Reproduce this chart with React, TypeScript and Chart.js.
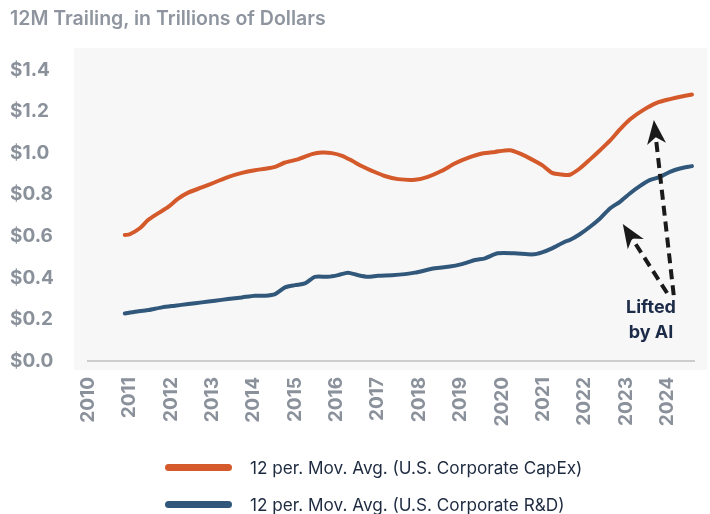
import React, { useEffect, useRef } from 'react';
import { Chart, registerables } from 'chart.js';

Chart.register(...registerables);

// ---- Data ----
const titleText = '12M Trailing, in Trillions of Dollars';
const seriesNames = [
  '12 per. Mov. Avg. (U.S. Corporate CapEx)',
  '12 per. Mov. Avg. (U.S. Corporate R&D)',
];
const seriesColors = ['#d4592b', '#31587a'];

const xMin = 2010;
const xMax = 2024.64;
const yMin = 0;
const yMax = 1.4;
const yStep = 0.2;

const capexYears = [
  2010.89, 2011.01, 2011.26, 2011.45, 2011.69, 2011.93, 2012.17, 2012.42, 2012.75, 2013.07,
  2013.38, 2013.72, 2014.03, 2014.28, 2014.52, 2014.76, 2015.07, 2015.41, 2015.65, 2015.89,
  2016.14, 2016.38, 2016.62, 2016.86, 2017.17, 2017.49, 2017.9, 2018.21, 2018.55, 2018.86,
  2019.18, 2019.52, 2019.83, 2020.19, 2020.48, 2020.72, 2020.97, 2021.21, 2021.45, 2021.64,
  2021.88, 2022.13, 2022.37, 2022.61, 2022.85, 2023.09, 2023.41, 2023.74, 2024.06, 2024.37,
  2024.59,
];
const capexValues = [
  0.606, 0.61, 0.64, 0.678, 0.71, 0.74, 0.78, 0.81, 0.835, 0.86,
  0.885, 0.905, 0.918, 0.925, 0.934, 0.955, 0.97, 0.995, 1.003, 1.0,
  0.987, 0.963, 0.937, 0.915, 0.89, 0.875, 0.872, 0.886, 0.915, 0.95,
  0.977, 0.998, 1.006, 1.014, 0.994, 0.97, 0.942, 0.905, 0.897, 0.896,
  0.926, 0.97, 1.014, 1.06, 1.114, 1.162, 1.207, 1.242, 1.26, 1.274,
  1.282,
];

const rdYears = [
  2010.89, 2011.14, 2011.45, 2011.79, 2012.1, 2012.42, 2012.75, 2013.07, 2013.38, 2013.72,
  2014.03, 2014.28, 2014.52, 2014.76, 2015.0, 2015.24, 2015.48, 2015.8, 2016.04, 2016.28,
  2016.52, 2016.76, 2017.0, 2017.34, 2017.66, 2017.9, 2018.38, 2018.7, 2019.03, 2019.35,
  2019.59, 2019.9, 2020.31, 2020.75, 2020.97, 2021.21, 2021.52, 2021.64, 2021.88, 2022.13,
  2022.37, 2022.61, 2022.85, 2023.09, 2023.33, 2023.57, 2023.82, 2024.06, 2024.3, 2024.59,
];
const rdValues = [
  0.229, 0.237, 0.245, 0.258, 0.266, 0.274, 0.282, 0.29, 0.298, 0.306,
  0.314, 0.314, 0.322, 0.354, 0.365, 0.373, 0.405, 0.405, 0.413, 0.425,
  0.413, 0.405, 0.41, 0.413, 0.418, 0.425, 0.446, 0.453, 0.466, 0.486,
  0.494, 0.518, 0.518, 0.513, 0.523, 0.542, 0.574, 0.582, 0.61, 0.646,
  0.686, 0.734, 0.766, 0.806, 0.841, 0.87, 0.886, 0.91, 0.926, 0.9375,
];

// Annotation (data coordinates)
const annotationLines = ['Lifted', 'by AI'];
const annotationTextX = 2023.6;
const annotationTextY = [0.255, 0.135];
const arrowTailX = [2023.99, 2024.15];
const arrowTailY = [0.327, 0.317];
const arrowTipX = [2022.92, 2023.67];
const arrowTipY = [0.659, 1.159];

const FONT = 'Inter, "Noto Sans", sans-serif';
const TICK_COLOR = '#8a919b';

const panelPlugin = {
  id: 'panel',
  beforeDraw(chart: any) {
    const { ctx, chartArea } = chart;
    ctx.save();
    ctx.fillStyle = '#f7f7f7';
    ctx.fillRect(chartArea.left - 14, chartArea.top - 22, chartArea.right - chartArea.left + 27, chartArea.bottom - chartArea.top + 31);
    ctx.restore();
  },
};

function drawArrow(ctx: CanvasRenderingContext2D, x1: number, y1: number, x2: number, y2: number) {
  const ang = Math.atan2(y2 - y1, x2 - x1);
  const dx = Math.cos(ang);
  const dy = Math.sin(ang);
  const headLen = 24;
  const headW = 9.5;
  ctx.save();
  ctx.strokeStyle = '#1a1a1a';
  ctx.fillStyle = '#1a1a1a';
  ctx.lineWidth = 4;
  ctx.setLineDash([10, 6]);
  ctx.beginPath();
  ctx.moveTo(x1, y1);
  ctx.lineTo(x2 - dx * headLen * 0.7, y2 - dy * headLen * 0.7);
  ctx.stroke();
  ctx.setLineDash([]);
  const bx = x2 - dx * headLen;
  const by = y2 - dy * headLen;
  const nx = x2 - dx * headLen * 0.72;
  const ny = y2 - dy * headLen * 0.72;
  ctx.beginPath();
  ctx.moveTo(x2, y2);
  ctx.lineTo(bx - dy * headW, by + dx * headW);
  ctx.lineTo(nx, ny);
  ctx.lineTo(bx + dy * headW, by - dx * headW);
  ctx.closePath();
  ctx.fill();
  ctx.restore();
}

const annotationPlugin = {
  id: 'liftedByAI',
  afterDatasetsDraw(chart: any) {
    const { ctx, scales } = chart;
    const xs = scales.x;
    const ys = scales.y;
    for (let i = 0; i < arrowTailX.length; i++) {
      drawArrow(
        ctx,
        xs.getPixelForValue(arrowTailX[i]),
        ys.getPixelForValue(arrowTailY[i]),
        xs.getPixelForValue(arrowTipX[i]),
        ys.getPixelForValue(arrowTipY[i])
      );
    }
    ctx.save();
    ctx.fillStyle = '#1c2b47';
    ctx.font = `700 18px ${FONT}`;
    ctx.textAlign = 'center';
    ctx.textBaseline = 'middle';
    annotationLines.forEach((t, i) => {
      ctx.fillText(t, xs.getPixelForValue(annotationTextX), ys.getPixelForValue(annotationTextY[i]));
    });
    ctx.restore();
  },
};

export default function App() {
  const canvasRef = useRef<HTMLCanvasElement | null>(null);

  useEffect(() => {
    document.body.style.margin = '0';
    const canvas = canvasRef.current;
    if (!canvas) return;
    const chart = new Chart(canvas, {
      type: 'line',
      data: {
        datasets: [
          {
            label: seriesNames[0],
            data: capexYears.map((x, i) => ({ x, y: capexValues[i] })),
            borderColor: seriesColors[0],
            backgroundColor: seriesColors[0],
            borderWidth: 4,
            pointRadius: 0,
            tension: 0.25,
            borderCapStyle: 'round',
            borderJoinStyle: 'round',
          },
          {
            label: seriesNames[1],
            data: rdYears.map((x, i) => ({ x, y: rdValues[i] })),
            borderColor: seriesColors[1],
            backgroundColor: seriesColors[1],
            borderWidth: 4,
            pointRadius: 0,
            tension: 0.25,
            borderCapStyle: 'round',
            borderJoinStyle: 'round',
          },
        ],
      },
      options: {
        responsive: false,
        animation: false,
        devicePixelRatio: 1,
        layout: { padding: { top: 70, left: 10, right: 16, bottom: 0 } },
        plugins: {
          legend: { display: false },
          title: { display: false },
          tooltip: { enabled: false },
        },
        scales: {
          x: {
            type: 'linear',
            min: xMin,
            max: xMax,
            grid: { display: false, drawTicks: false },
            border: { display: true, color: '#cdcdcd', width: 2 },
            afterFit: (scale: any) => {
              scale.height = 153;
            },
            ticks: {
              stepSize: 1,
              includeBounds: false,
              autoSkip: false,
              minRotation: 90,
              maxRotation: 90,
              padding: 16,
              color: TICK_COLOR,
              font: { family: FONT, size: 19, weight: '700' },
              callback: (v: any) => (Number.isInteger(v) ? String(v) : ''),
            },
          },
          y: {
            min: yMin,
            max: yMax,
            grid: { display: false, drawTicks: false },
            border: { display: false },
            afterFit: (scale: any) => {
              scale.width = 78;
            },
            ticks: {
              stepSize: yStep,
              crossAlign: 'far',
              color: TICK_COLOR,
              font: { family: FONT, size: 19, weight: '700' },
              callback: (v: any) => '$' + Number(v).toFixed(1),
            },
          },
        },
      },
      plugins: [panelPlugin, annotationPlugin],
    } as any);
    return () => chart.destroy();
  }, []);

  return (
    <div style={{ position: 'relative', width: 710, height: 514, background: '#ffffff', fontFamily: FONT }}>
      <canvas ref={canvasRef} width={710} height={514} style={{ position: 'absolute', left: 0, top: 0 }} />
      <div
        style={{
          position: 'absolute',
          left: 10,
          top: 8,
          fontSize: 19.5,
          lineHeight: '20px',
          fontWeight: 600,
          color: '#8e959f',
          whiteSpace: 'nowrap',
        }}
      >
        {titleText}
      </div>
      {seriesNames.map((name, i) => (
        <div
          key={name}
          style={{
            position: 'absolute',
            left: 165,
            top: i === 0 ? 455 : 492,
            height: 24,
            display: 'flex',
            alignItems: 'center',
            whiteSpace: 'nowrap',
          }}
        >
          <div style={{ width: 67, height: 7, borderRadius: 4, background: seriesColors[i], marginRight: 18 }} />
          <span style={{ fontSize: 17.2, color: '#1d2a40', fontWeight: 400 }}>{name}</span>
        </div>
      ))}
    </div>
  );
}
